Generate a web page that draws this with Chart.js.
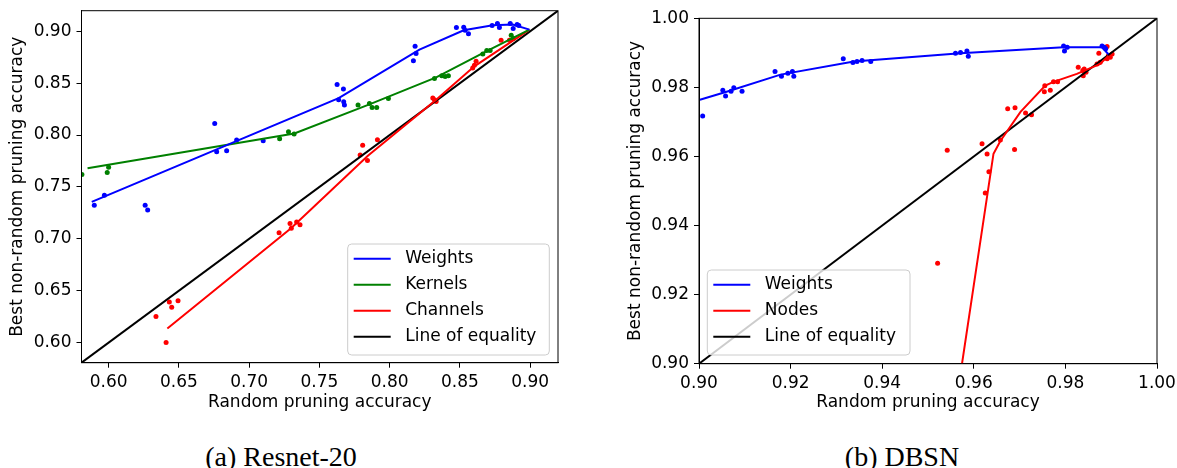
<!DOCTYPE html>
<html>
<head>
<meta charset="utf-8">
<script src="https://cdn.jsdelivr.net/npm/chart.js@4.4.1/dist/chart.umd.min.js"></script>
<style>
  body { margin: 0; background: #fff; width: 1177px; height: 468px; position: relative; overflow: hidden; }
  #wrapA { position: absolute; left: 0; top: 0; }
  #wrapB { position: absolute; left: 600px; top: 0; }
  .caption { position: absolute; top: 442px; font-family: 'Liberation Serif', serif; font-size: 28px; line-height: 30px;
             color: #000; transform: translateX(-50%); white-space: nowrap; }
</style>
</head>
<body>
<div id="wrapA"><canvas id="chartA" width="580" height="430"></canvas></div>
<div id="wrapB"><canvas id="chartB" width="577" height="430"></canvas></div>
<div class="caption" style="left:281px">(a) Resnet-20</div>
<div class="caption" style="left:902px">(b) DBSN</div>
<script>
// (a) Resnet-20
const resnetTicks = [0.60, 0.65, 0.70, 0.75, 0.80, 0.85, 0.90];
const resnetWeightsPts = [[0.5898,0.7324],[0.597,0.742],[0.626,0.7324],[0.6278,0.7279],[0.6755,0.8112],[0.6769,0.7839],
  [0.684,0.7848],[0.6911,0.7952],[0.710,0.7945],[0.7626,0.8486],[0.7671,0.8444],[0.7637,0.834],[0.7673,0.8321],
  [0.7678,0.829],[0.8181,0.8855],[0.8188,0.8785],[0.8169,0.8717],[0.8475,0.9036],[0.8527,0.9039],[0.8537,0.901],
  [0.8561,0.8975],[0.8729,0.9055],[0.8767,0.9074],[0.8781,0.9036],[0.8858,0.9074],[0.8879,0.9026],[0.8907,0.9065],[0.8919,0.9055]];
const resnetWeightsFit = [[0.588,0.7356],[0.7637,0.8355],[0.8212,0.8823],[0.8527,0.901],[0.8734,0.9058],[0.8876,0.9065],[0.8995,0.9016]];
const resnetKernelsPts = [[0.581,0.762],[0.599,0.764],[0.600,0.769],[0.7217,0.7964],[0.728,0.8032],[0.732,0.801],
  [0.7775,0.829],[0.7856,0.8305],[0.7875,0.8266],[0.7908,0.8266],[0.7991,0.8353],[0.8319,0.8546],[0.8371,0.8572],
  [0.8395,0.8563],[0.8418,0.8572],[0.8663,0.8782],[0.8691,0.8814],[0.8715,0.8814],[0.8865,0.8962],[0.888,0.893]];
const resnetKernelsFit = [[0.585,0.768],[0.7322,0.8015],[0.7856,0.8295],[0.8331,0.8556],[0.8687,0.8807],[0.8995,0.9016]];
const resnetChannelsPts = [[0.6337,0.6253],[0.6432,0.6391],[0.6449,0.634],[0.6494,0.6404],[0.6409,0.6002],[0.7213,0.706],
  [0.7291,0.7147],[0.730,0.7102],[0.7338,0.7163],[0.7362,0.7137],[0.7808,0.7903],[0.779,0.7807],[0.7842,0.7755],
  [0.7913,0.7955],[0.8307,0.8357],[0.8331,0.8324],[0.8319,0.834],[0.8603,0.8672],[0.8615,0.871],[0.8591,0.8647],
  [0.8793,0.8913],[0.8852,0.8913]];
const resnetChannelsFit = [[0.6418,0.6137],[0.7298,0.7102],[0.7845,0.780],[0.8331,0.834],[0.8603,0.8662],[0.8995,0.9016]];
const resnetEquality = [[0.5,0.5],[1.0,1.0]];

// (b) DBSN
const dbsnTicks = [0.90, 0.92, 0.94, 0.96, 0.98, 1.00];
const dbsnWeightsPts = [[0.9008,0.9717],[0.9052,0.9792],[0.9058,0.9775],[0.907,0.9789],[0.9076,0.9799],[0.9094,0.9789],
  [0.9166,0.9846],[0.918,0.9832],[0.9194,0.9841],[0.9204,0.9846],[0.9207,0.9832],[0.9315,0.9883],[0.9336,0.9872],
  [0.9345,0.9875],[0.9356,0.9878],[0.9375,0.9875],[0.956,0.9899],[0.9571,0.9901],[0.9585,0.9905],[0.9588,0.989],
  [0.9796,0.992],[0.9804,0.9916],[0.9798,0.9905],[0.988,0.992],[0.9885,0.9916],[0.9888,0.9912]];
const dbsnWeightsFit = [[0.9002,0.9764],[0.9062,0.9788],[0.9178,0.9837],[0.9338,0.9875],[0.9571,0.9899],[0.9796,0.9916],[0.988,0.9916],[0.9894,0.9896]];
const dbsnNodesPts = [[0.9521,0.9291],[0.9542,0.9618],[0.9618,0.9637],[0.9629,0.9607],[0.9658,0.9648],[0.9689,0.962],
  [0.9633,0.9556],[0.9625,0.9494],[0.9674,0.9738],[0.969,0.9741],[0.9713,0.9726],[0.9726,0.9721],[0.9755,0.9805],
  [0.9754,0.9787],[0.9767,0.9792],[0.9774,0.9816],[0.9783,0.9816],[0.9828,0.9858],[0.9838,0.9849],[0.9841,0.9853],
  [0.9845,0.9844],[0.9839,0.9834],[0.9873,0.9899],[0.9869,0.9868],[0.9876,0.9873],[0.9891,0.9918],[0.9894,0.9892],
  [0.9898,0.9887],[0.9902,0.9897],[0.9891,0.9883]];
const dbsnNodesFit = [[0.952,0.852],[0.9643,0.9608],[0.9658,0.9645],[0.9702,0.9729],[0.9756,0.9805],[0.9774,0.9816],
  [0.9825,0.9839],[0.9876,0.9868],[0.9894,0.9892]];
const dbsnEquality = [[0.9,0.9],[1.0,1.0]];

const FONT = 'DejaVu Sans';
const toXY = arr => arr.map(p => ({x: p[0], y: p[1]}));

function dots(pts, color) {
  return { data: toXY(pts), showLine: false, pointRadius: 2.5, pointHoverRadius: 2.5,
           pointBorderWidth: 0, backgroundColor: color, borderColor: color };
}
function fitLine(label, pts, color) {
  return { label: label, inLegend: true, data: toXY(pts), showLine: true, borderColor: color,
           backgroundColor: color, borderWidth: 2, pointRadius: 0, pointHoverRadius: 0, tension: 0 };
}

// legend box drawn inside the plot, like matplotlib's
const boxLegend = {
  id: 'boxLegend',
  afterDatasetsDraw(chart, args, o) {
    const {ctx, chartArea} = chart;
    const x0 = o.anchor === 'left' ? chartArea.left + o.dx : chartArea.right - o.dx - o.w;
    const y0 = chartArea.bottom - o.dy - o.h;
    ctx.save();
    ctx.beginPath();
    ctx.roundRect(x0, y0, o.w, o.h, 4);
    ctx.fillStyle = 'rgba(255,255,255,0.8)';
    ctx.fill();
    ctx.strokeStyle = '#cccccc';
    ctx.lineWidth = 1;
    ctx.stroke();
    ctx.font = '17px "' + FONT + '"';
    ctx.textBaseline = 'middle';
    chart.data.datasets.filter(d => d.inLegend).forEach((d, i) => {
      const y = y0 + 14.8 + i * 26;
      ctx.beginPath();
      ctx.moveTo(x0 + 6, y);
      ctx.lineTo(x0 + 43, y);
      ctx.strokeStyle = d.borderColor;
      ctx.lineWidth = 2;
      ctx.stroke();
      ctx.fillStyle = '#000';
      ctx.fillText(d.label, x0 + 57.5, y);
    });
    ctx.restore();
  }
};

const frame = {
  id: 'frame',
  afterDraw(chart) {
    const {ctx, chartArea: a} = chart;
    ctx.save();
    ctx.strokeStyle = '#000';
    ctx.lineWidth = 1;
    ctx.strokeRect(a.left, a.top, a.right - a.left, a.bottom - a.top);
    ctx.restore();
  }
};

function axis(ticks, min, max, title, isX, size, titlePad) {
  return {
    type: 'linear', min: min, max: max,
    afterBuildTicks: s => { s.ticks = ticks.map(v => ({value: v})); },
    afterFit: s => {
      if (isX) { s.height = size; s.paddingLeft = 0; s.paddingRight = 0; }
      else { s.width = size; s.paddingTop = 0; s.paddingBottom = 0; }
    },
    grid: { display: true, drawOnChartArea: false, drawTicks: true, tickLength: 5, color: '#000', lineWidth: 1 },
    border: { display: true, color: '#000', width: 1 },
    ticks: { color: '#000', font: { family: FONT, size: 17 }, padding: 5, autoSkip: false, maxRotation: 0,
             callback: v => v.toFixed(2) },
    title: { display: true, text: title, color: '#000', font: { family: FONT, size: 17 }, padding: titlePad }
  };
}

function makeChart(id, datasets, o) {
  return new Chart(document.getElementById(id), {
    type: 'scatter',
    data: { datasets: datasets },
    options: {
      responsive: false,
      animation: false,
      layout: { padding: o.pad },
      plugins: { legend: { display: false }, tooltip: { enabled: false }, boxLegend: o.legend },
      scales: {
        x: axis(o.ticks, o.min, o.max, 'Random pruning accuracy', true, o.xh, { top: 0, bottom: 16.8 }),
        y: axis(o.ticks, o.ymin, o.ymax, 'Best non-random pruning accuracy', false, o.yw, { top: 4, bottom: 0 })
      }
    },
    plugins: [boxLegend, frame]
  });
}

makeChart('chartA', [
  fitLine('Weights', resnetWeightsFit, '#0000ff'),
  fitLine('Kernels', resnetKernelsFit, '#008000'),
  fitLine('Channels', resnetChannelsFit, '#ff0000'),
  fitLine('Line of equality', resnetEquality, '#000000'),
  dots(resnetWeightsPts, '#0000ff'),
  dots(resnetKernelsPts, '#008000'),
  dots(resnetChannelsPts, '#ff0000')
], {
  ticks: resnetTicks, min: 0.5807, max: 0.9198, ymin: 0.5807, ymax: 0.9198,
  pad: { top: 10.7, left: 3.8, right: 22, bottom: 0 }, yw: 77.7, xh: 67.3,
  legend: { anchor: 'right', dx: 8.7, dy: 7.7, w: 201.6, h: 111 }
});

makeChart('chartB', [
  fitLine('Weights', dbsnWeightsFit, '#0000ff'),
  fitLine('Nodes', dbsnNodesFit, '#ff0000'),
  fitLine('Line of equality', dbsnEquality, '#000000'),
  dots(dbsnWeightsPts, '#0000ff'),
  dots(dbsnNodesPts, '#ff0000')
], {
  ticks: dbsnTicks, min: 0.90, max: 1.00, ymin: 0.90, ymax: 1.00,
  pad: { top: 18.3, left: 21.8, right: 20, bottom: 0 }, yw: 77.2, xh: 66.3,
  legend: { anchor: 'left', dx: 8.3, dy: 8.7, w: 202.7, h: 85 }
});
</script>
</body>
</html>
